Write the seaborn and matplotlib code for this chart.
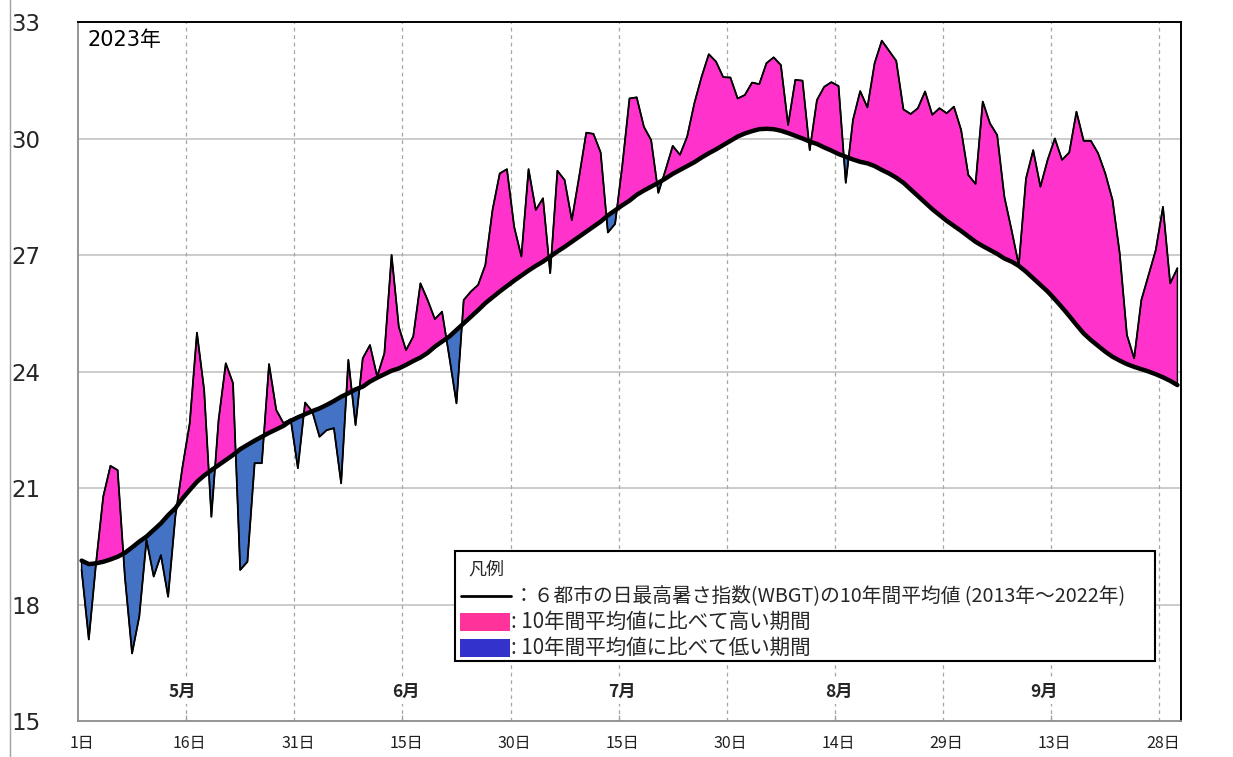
import numpy as np
import pandas as pd
import matplotlib
matplotlib.use("Agg")
import matplotlib.pyplot as plt
import seaborn as sns
from matplotlib.patches import Rectangle
from matplotlib.lines import Line2D

# ---------------- data ----------------
days = list(range(153))  # 0 = 5月1日 ... 152 = 9月30日

daily = [
    18.89, 17.10, 19.06, 20.78, 21.57, 21.46, 18.72, 16.74, 17.69, 19.66,
    18.72, 19.27, 18.20, 20.26, 21.55, 22.67, 25.00, 23.52, 20.26, 22.75,
    24.21, 23.70, 18.89, 19.10, 21.64, 21.64, 24.19, 23.01, 22.67, 22.77,
    21.51, 23.20, 22.97, 22.32, 22.49, 22.54, 21.12, 24.30, 22.62, 24.34,
    24.68, 23.87, 24.47, 27.00, 25.15, 24.55, 24.90, 26.27, 25.84, 25.35,
    25.54, 24.38, 23.18, 25.84, 26.06, 26.23, 26.74, 28.16, 29.10, 29.21,
    27.73, 26.96, 29.21, 28.16, 28.46, 26.53, 29.17, 28.93, 27.90, 29.00,
    30.15, 30.12, 29.64, 27.58, 27.80, 29.30, 31.03, 31.06, 30.30, 29.96,
    28.60, 29.19, 29.81, 29.58, 30.05, 30.91, 31.59, 32.17, 31.98, 31.58,
    31.57, 31.03, 31.12, 31.44, 31.40, 31.94, 32.09, 31.89, 30.35, 31.51,
    31.49, 29.70, 30.99, 31.33, 31.45, 31.35, 28.86, 30.48, 31.22, 30.80,
    31.94, 32.52, 32.26, 32.00, 30.75, 30.63, 30.78, 31.21, 30.61, 30.78,
    30.65, 30.82, 30.22, 29.06, 28.83, 30.95, 30.39, 30.09, 28.50, 27.64,
    26.74, 28.97, 29.70, 28.76, 29.45, 30.00, 29.45, 29.64, 30.69, 29.94,
    29.94, 29.62, 29.10, 28.42, 27.04, 24.94, 24.34, 25.84, 26.48, 27.13,
    28.24, 26.27, 26.66,
]

average = [
    19.13, 19.04, 19.06, 19.10, 19.16, 19.23, 19.33, 19.47, 19.62, 19.75,
    19.92, 20.09, 20.30, 20.48, 20.73, 20.95, 21.16, 21.32, 21.46, 21.59,
    21.72, 21.85, 22.00, 22.11, 22.22, 22.32, 22.42, 22.51, 22.60, 22.73,
    22.82, 22.90, 22.98, 23.05, 23.14, 23.24, 23.35, 23.44, 23.54, 23.61,
    23.74, 23.84, 23.93, 24.02, 24.08, 24.17, 24.27, 24.36, 24.48, 24.64,
    24.77, 24.90, 25.07, 25.24, 25.41, 25.58, 25.76, 25.91, 26.06, 26.20,
    26.34, 26.47, 26.60, 26.72, 26.83, 26.96, 27.09, 27.21, 27.34, 27.47,
    27.60, 27.73, 27.86, 28.02, 28.15, 28.28, 28.40, 28.55, 28.66, 28.76,
    28.86, 28.97, 29.09, 29.19, 29.29, 29.39, 29.51, 29.62, 29.72, 29.83,
    29.94, 30.05, 30.13, 30.19, 30.24, 30.25, 30.24, 30.20, 30.14, 30.07,
    30.00, 29.92, 29.86, 29.77, 29.69, 29.60, 29.53, 29.46, 29.40, 29.36,
    29.29, 29.19, 29.10, 28.99, 28.86, 28.69, 28.52, 28.35, 28.18, 28.03,
    27.88, 27.75, 27.62, 27.48, 27.34, 27.23, 27.13, 27.03, 26.91, 26.83,
    26.72, 26.57, 26.40, 26.23, 26.06, 25.86, 25.65, 25.43, 25.20, 24.98,
    24.81, 24.66, 24.51, 24.38, 24.28, 24.19, 24.12, 24.06, 24.00, 23.93,
    23.85, 23.76, 23.65,
]

x_tick_days = [0, 15, 30, 45, 60, 75, 90, 105, 120, 135, 150]
x_tick_labels = ["1日", "16日", "31日", "15日", "30日", "15日", "30日",
                 "14日", "29日", "13日", "28日"]
month_labels = ["5月", "6月", "7月", "8月", "9月"]
month_days = [14, 45, 75, 105, 133.5]
y_ticks = [15, 18, 21, 24, 27, 30, 33]

year_label = "2023年"
legend_title = "凡例"
legend_line_text = "：６都市の日最高暑さ指数(WBGT)の10年間平均値 (2013年～2022年)"
legend_high_text = ": 10年間平均値に比べて高い期間"
legend_low_text = ": 10年間平均値に比べて低い期間"

# ---------------- style ----------------
sns.set_style("white")
plt.rcParams['font.family'] = ['DejaVu Sans', 'Noto Sans CJK JP']

W, H = 1233, 757
fig = plt.figure(figsize=(W / 100, H / 100), dpi=100)
ax = fig.add_axes([78 / W, 1 - 721 / H, 1103 / W, 699 / H])

df = pd.DataFrame({"day": days, "daily": daily, "avg": average})
d = df["day"].to_numpy()
v = df["daily"].to_numpy()
a = df["avg"].to_numpy()

PINK = "#FF33CC"
BLUE = "#4472C4"

ax.fill_between(d, a, v, where=v >= a, interpolate=True, facecolor=PINK,
                edgecolor="black", linewidth=1.0, zorder=3)
ax.fill_between(d, a, v, where=v <= a, interpolate=True, facecolor=BLUE,
                edgecolor="black", linewidth=1.0, zorder=3)
sns.lineplot(data=df, x="day", y="daily", color="black", linewidth=1.3,
             ax=ax, zorder=4)
sns.lineplot(data=df, x="day", y="avg", color="black", linewidth=3.2,
             ax=ax, zorder=5)

ax.set_xlim(-0.5, 152.5)
ax.set_ylim(15, 33)
ax.set_xlabel("")
ax.set_ylabel("")

# gridlines
for yv in y_ticks[1:-1]:
    ax.axhline(yv, color="#BFBFBF", linewidth=1.1, zorder=1)
for k in range(1, 11):
    ax.axvline(-0.5 + 15 * k, color="#A6A6A6", linewidth=0.9,
               linestyle=(0, (3, 3)), zorder=1)

# y axis
ax.set_yticks(y_ticks)
ax.set_yticklabels([str(t) for t in y_ticks], fontsize=16.5,
                   family="DejaVu Sans")
ax.tick_params(axis="y", direction="out", length=8, width=1.1,
               color="#8C8C8C", pad=19)

# x axis
ax.set_xticks(x_tick_days)
ax.set_xticklabels(x_tick_labels, fontsize=11.5, family="Noto Sans CJK JP",
                   color="#202020")
ax.tick_params(axis="x", which="major", length=0, pad=10)
ax.set_xticks([-0.5 + 30 * k for k in range(6)], minor=True)
ax.tick_params(axis="x", which="minor", direction="out", length=6,
               width=1.0, color="#8C8C8C")
ax.vlines([14.5 + 30 * k for k in range(5)], 0, 6 / 699,
          transform=ax.get_xaxis_transform(), color="#A6A6A6",
          linewidth=1.0, zorder=6)

for sp in ["left", "bottom"]:
    ax.spines[sp].set_color("#8C8C8C")
    ax.spines[sp].set_linewidth(1.3)
for sp in ["top", "right"]:
    ax.spines[sp].set_color("black")
    ax.spines[sp].set_linewidth(1.4)
for sp in ax.spines.values():
    sp.set_zorder(7)

# month labels
for md, ml in zip(month_days, month_labels):
    ax.text(md, 15.75, ml, ha="center", va="center", fontsize=12.5,
            family="Noto Sans CJK JP", fontweight="bold", color="#262626",
            bbox=dict(facecolor="white", edgecolor="none", pad=2),
            zorder=6)

# year label
ax.text(9 / 1103, (721 - 40) / 699, year_label, transform=ax.transAxes,
        ha="left", va="center", fontsize=15, color="black", zorder=6)

# left border of chart area
fig.add_artist(Line2D([9.5 / W, 9.5 / W], [0, 1], color="#A0A0A0",
                      linewidth=1.0, transform=fig.transFigure))


# legend (drawn in figure pixels)
def fx(px):
    return px / W


def fy(py):
    return 1 - py / H


tf = fig.transFigure
fig.add_artist(Rectangle((fx(455), fy(661)), (1155 - 455) / W, (661 - 551) / H,
                         transform=tf, facecolor="white", edgecolor="black",
                         linewidth=1.5, zorder=10))
fig.text(fx(468), fy(570), legend_title, ha="left", va="center",
         fontsize=13, family="Noto Sans CJK JP", zorder=11)
fig.add_artist(Line2D([fx(461), fx(511)], [fy(596), fy(596)], color="black",
                      linewidth=2.0, transform=tf, zorder=11))
fig.text(fx(514), fy(596), legend_line_text, ha="left", va="center",
         fontsize=14.2, family="Noto Sans CJK JP", zorder=11)
fig.add_artist(Rectangle((fx(460), fy(631)), 50 / W, 18 / H, transform=tf,
                         facecolor="#FF3399", edgecolor="none", zorder=11))
fig.text(fx(511), fy(622), legend_high_text, ha="left", va="center",
         fontsize=14.8, family="Noto Sans CJK JP", zorder=11)
fig.add_artist(Rectangle((fx(460), fy(657)), 50 / W, 18 / H, transform=tf,
                         facecolor="#3333CC", edgecolor="none", zorder=11))
fig.text(fx(511), fy(648), legend_low_text, ha="left", va="center",
         fontsize=14.8, family="Noto Sans CJK JP", zorder=11)

fig.savefig("out.png", dpi=100)
